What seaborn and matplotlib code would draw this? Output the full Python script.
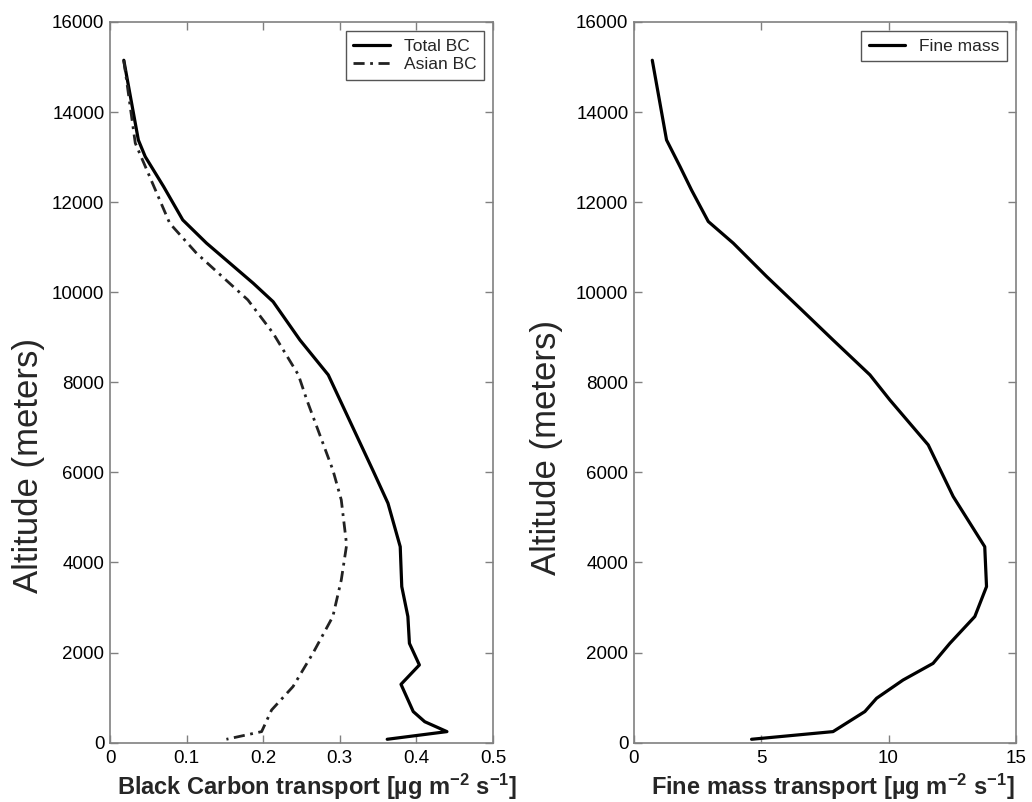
import matplotlib
matplotlib.use("Agg")
import matplotlib.pyplot as plt
import seaborn as sns
import pandas as pd

# Left panel: black carbon transport profiles
alt_total = [15150, 13380, 13010, 12345, 11605, 11090, 10200, 9790, 8940, 8165,
             6020, 5315, 4350, 3465, 2800, 2205, 1725, 1295, 690, 465, 245, 75]
total_bc = [0.018, 0.037, 0.046, 0.070, 0.095, 0.126, 0.187, 0.213, 0.248, 0.285,
            0.344, 0.363, 0.379, 0.381, 0.389, 0.391, 0.404, 0.380, 0.396, 0.411, 0.440, 0.362]

alt_asian = [15150, 13310, 11530, 10865, 9830, 9090, 8165, 7610, 6055, 5390,
             4390, 3610, 2800, 1985, 1245, 725, 245, 75]
asian_bc = [0.018, 0.033, 0.078, 0.113, 0.180, 0.213, 0.246, 0.257, 0.291, 0.302,
            0.309, 0.302, 0.291, 0.265, 0.239, 0.211, 0.198, 0.152]

# Right panel: fine mass transport profile
alt_fine = [15150, 13380, 12790, 12270, 11570, 11090, 10350, 9645, 8940, 8165, 7610,
            6610, 5465, 4350, 3465, 2800, 2205, 1760, 1390, 985, 690, 245, 75]
fine_mass = [0.72, 1.28, 1.81, 2.26, 2.92, 3.90, 5.21, 6.52, 7.82, 9.27, 10.05,
             11.56, 12.54, 13.78, 13.85, 13.39, 12.41, 11.75, 10.57, 9.53, 9.07, 7.82, 4.62]

y_ticks = [0, 2000, 4000, 6000, 8000, 10000, 12000, 14000, 16000]
bc_ticks = [0, 0.1, 0.2, 0.3, 0.4, 0.5]
fine_ticks = [0, 5, 10, 15]

sns.set_style("ticks")
plt.rcParams["font.family"] = ["Liberation Sans", "DejaVu Sans"]
plt.rcParams["mathtext.fontset"] = "custom"
plt.rcParams["mathtext.rm"] = "Liberation Sans:bold"
plt.rcParams["mathtext.bf"] = "Liberation Sans:bold"
plt.rcParams["mathtext.it"] = "Liberation Sans:bold"

fig = plt.figure(figsize=(10.32, 8.02), dpi=100)
ax1 = fig.add_axes([0.1066, 0.074, 0.371, 0.8986])
ax2 = fig.add_axes([0.6143, 0.074, 0.370, 0.8986])

df_total = pd.DataFrame({"x": total_bc, "alt": alt_total})
df_asian = pd.DataFrame({"x": asian_bc, "alt": alt_asian})
df_fine = pd.DataFrame({"x": fine_mass, "alt": alt_fine})

sns.lineplot(data=df_total, x="x", y="alt", sort=False, estimator=None, ax=ax1,
             color="black", lw=2.3, label="Total BC")
sns.lineplot(data=df_asian, x="x", y="alt", sort=False, estimator=None, ax=ax1,
             color="#222222", lw=2.0, linestyle=(0, (4, 2, 1, 2)), label="Asian BC")
sns.lineplot(data=df_fine, x="x", y="alt", sort=False, estimator=None, ax=ax2,
             color="black", lw=2.3, label="Fine mass")

for ax, xt, xlim in [(ax1, bc_ticks, (0, 0.5)), (ax2, fine_ticks, (0, 15))]:
    ax.set_xlim(*xlim)
    ax.set_ylim(0, 16000)
    ax.set_xticks(xt)
    ax.set_yticks(y_ticks)
    ax.set_xticklabels([f"{v:g}" for v in xt])
    ax.tick_params(direction="in", top=True, right=True, length=6, width=1,
                   color="#808080", labelsize=13.5, labelcolor="black")
    ax.tick_params(axis="x", pad=5)
    ax.tick_params(axis="y", pad=4)
    for s in ax.spines.values():
        s.set_color("#808080")
        s.set_linewidth(1.2)
    ax.set_ylabel("Altitude (meters)", fontsize=25)
    leg = ax.legend(loc="upper right", fontsize=12.5, frameon=True, fancybox=False,
                    framealpha=1, edgecolor="#555555", borderaxespad=0.5,
                    handlelength=2.1, handletextpad=0.8, labelspacing=0.2,
                    borderpad=0.45)
    leg.get_frame().set_linewidth(1.0)

ax1.set_xlabel(r"Black Carbon transport [µg m$^{-2}$ s$^{-1}$]", fontsize=17,
               fontweight="bold")
ax2.set_xlabel(r"Fine mass transport [µg m$^{-2}$ s$^{-1}$]", fontsize=17,
               fontweight="bold")
ax1.xaxis.set_label_coords(0.54, -0.040)
ax2.xaxis.set_label_coords(0.52, -0.040)
ax1.yaxis.set_label_coords(-0.17, 0.385)
ax2.yaxis.set_label_coords(-0.186, 0.41)

fig.savefig("out.png", dpi=100, facecolor="white")
